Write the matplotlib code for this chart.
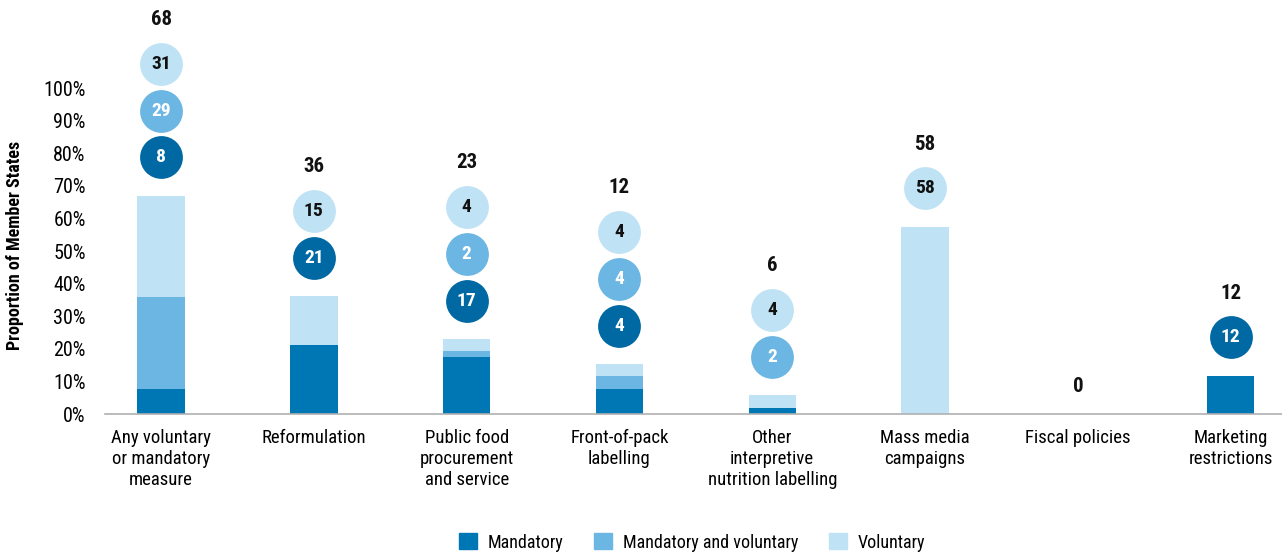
import matplotlib
matplotlib.use('Agg')
import matplotlib.pyplot as plt
from matplotlib.patches import Patch
import numpy as np

plt.rcParams['font.family'] = ['Liberation Sans Narrow', 'DejaVu Sans Condensed',
                               'Roboto Condensed', 'Open Sans Condensed', 'Roboto',
                               'DejaVu Sans']

# categories and bar segment heights (%)
categories = ['Any voluntary\nor mandatory\nmeasure', 'Reformulation',
              'Public food\nprocurement\nand service', 'Front-of-pack\nlabelling',
              'Other\ninterpretive\nnutrition labelling', 'Mass media\ncampaigns',
              'Fiscal policies', 'Marketing\nrestrictions']
bar_mandatory = [7.7, 21.2, 17.5, 7.8, 2.0, 0, 0, 11.7]
bar_mixed = [28.2, 0, 1.8, 3.8, 0, 0, 0, 0]
bar_voluntary = [31.0, 15.0, 3.7, 3.7, 3.8, 57.4, 0, 0]

# circle labels (None = no circle)
circle_mandatory = [8, 21, 17, 4, None, None, None, 12]
circle_mixed = [29, None, 2, 4, 2, None, None, None]
circle_voluntary = [31, 15, 4, 4, 4, 58, None, None]
totals = [68, 36, 23, 12, 6, 58, 0, 12]

c_mand = '#0077b5'
c_mixed = '#6cb6e4'
c_vol = '#bfe2f5'
circ_colors = ['#0068a2', '#6cb6e4', '#bfe2f5']
circ_text = ['white', 'white', '#111111']

fig = plt.figure(figsize=(12.82, 5.58), dpi=100)
ax = fig.add_axes([0.082, 0.258, 0.918, 0.742])

x = np.arange(len(categories))
w = 0.31
m = np.array(bar_mandatory)
mx = np.array(bar_mixed)
v = np.array(bar_voluntary)
ax.bar(x, m, w, color=c_mand)
ax.bar(x, mx, w, bottom=m, color=c_mixed)
ax.bar(x, v, w, bottom=m + mx, color=c_vol)

tops = m + mx + v
for i in range(len(categories)):
    y = tops[i] + 11.8
    last = None
    for k, vals in enumerate([circle_mandatory, circle_mixed, circle_voluntary]):
        if vals[i] is None:
            continue
        ax.scatter(x[i], y, s=950, color=circ_colors[k], zorder=3, linewidths=0)
        ax.text(x[i], y, str(vals[i]), ha='center', va='center', fontsize=14,
                fontweight='bold', color=circ_text[k], zorder=4)
        last = y
        y += 14.4
    label_y = last + 13.6 if last is not None else tops[i] + 8.4
    ax.text(x[i], label_y, str(totals[i]), ha='center', va='center', fontsize=15,
            fontweight='bold', color='#111111')

ax.set_xlim(-0.366, len(categories) - 1 + 0.336)
ax.set_ylim(0, 127)
ax.set_yticks(np.arange(0, 101, 10))
ax.set_yticklabels([f'{t}%' for t in range(0, 101, 10)], fontsize=14.5)
ax.set_xticks(x)
ax.set_xticklabels(categories, fontsize=13.5, linespacing=1.22, va='top')
ax.tick_params(length=0, pad=11, axis='x')
ax.tick_params(length=0, pad=14, axis='y')
for s in ['top', 'right', 'left']:
    ax.spines[s].set_visible(False)
ax.spines['bottom'].set_color('#b0b0b0')
ax.spines['bottom'].set_linewidth(1.2)

fig.text(0.012, 0.56, 'Proportion of Member States', rotation=90, ha='center',
         va='center', fontsize=13, fontweight='bold')

handles = [Patch(color=c_mand, label='Mandatory'),
           Patch(color=c_mixed, label='Mandatory and voluntary'),
           Patch(color=c_vol, label='Voluntary')]
fig.legend(handles=handles, loc='center', bbox_to_anchor=(0.54, 0.028), ncol=3,
           frameon=False, fontsize=13, handlelength=1.0, handleheight=1.0,
           columnspacing=1.7, handletextpad=0.6)

fig.savefig('out.png', dpi=100)
